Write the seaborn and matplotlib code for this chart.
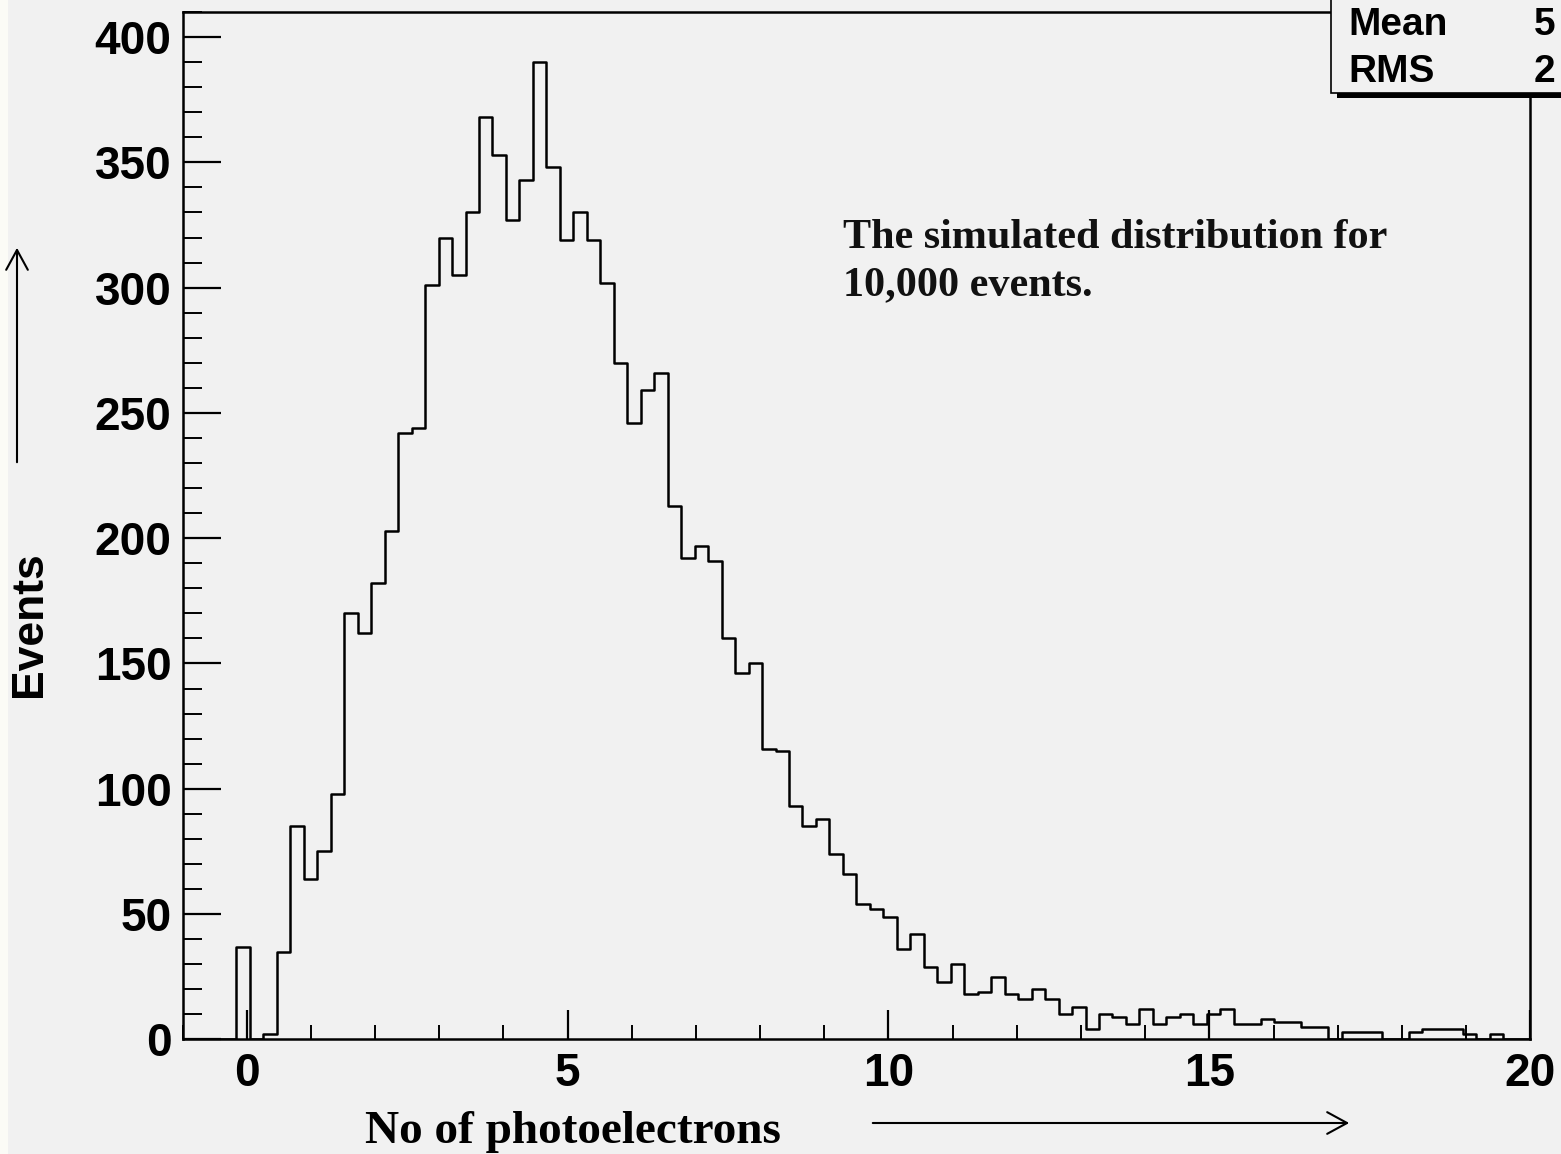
import numpy as np
import pandas as pd
import matplotlib
matplotlib.use("Agg")
import matplotlib.pyplot as plt
from matplotlib.patches import Rectangle, FancyArrowPatch
import seaborn as sns

# ---------------- data ----------------
hist_low = -1.0
hist_high = 20.0
n_bins = 100
events = [
    0, 0, 0, 0, 37, 0, 2, 35, 85, 64,
    75, 98, 170, 162, 182, 203, 242, 244, 301, 320,
    305, 330, 368, 353, 327, 343, 390, 348, 319, 330,
    319, 302, 270, 246, 259, 266, 213, 192, 197, 191,
    160, 146, 150, 116, 115, 93, 85, 88, 74, 66,
    54, 52, 49, 36, 42, 29, 23, 30, 18, 19,
    25, 18, 16, 20, 16, 10, 13, 4, 10, 9,
    6, 12, 6, 9, 10, 6, 10, 12, 6, 6,
    8, 7, 7, 5, 5, 0, 3, 3, 3, 0,
    0, 3, 4, 4, 4, 2, 0, 2, 0, 0,
]
x_major = [0, 5, 10, 15, 20]
y_major = [0, 50, 100, 150, 200, 250, 300, 350, 400]
stat_names = ["Mean", "RMS"]
stat_values = ["5", "2"]
note_text = "The simulated distribution for\n10,000 events."
x_title = "No of photoelectrons"
y_title = "Events"

# ---------------- build ----------------
edges = np.linspace(hist_low, hist_high, n_bins + 1)
centers = 0.5 * (edges[:-1] + edges[1:])
df = pd.DataFrame({"npe": centers, "events": events})

W, H = 1561, 1154
BG = "#f1f1f1"

sns.set_style("ticks")
plt.rcParams["font.family"] = ["Liberation Sans", "DejaVu Sans"]
plt.rcParams["font.weight"] = "bold"
plt.rcParams["text.color"] = "black"
plt.rcParams["axes.labelcolor"] = "black"
plt.rcParams["xtick.color"] = "black"
plt.rcParams["ytick.color"] = "black"

fig = plt.figure(figsize=(W / 100, H / 100), dpi=100, facecolor=BG)

def fx(x):
    return x / W

def fy(y):
    return 1 - y / H

ax_l, ax_r, ax_t, ax_b = 182.5, 1530.3, 12.0, 1039.3
ax = fig.add_axes([fx(ax_l), fy(ax_b), (ax_r - ax_l) / W, (ax_b - ax_t) / H])
ax.set_facecolor(BG)

sns.histplot(data=df, x="npe", weights="events", bins=n_bins,
             binrange=(hist_low, hist_high), element="step",
             fill=False, color="black", linewidth=1.8, ax=ax)

ax.set_xlim(hist_low, hist_high)
ax.set_ylim(0, 409.8)
ax.set_xlabel("")
ax.set_ylabel("")
ax.set_xticks(x_major)
ax.set_xticks(np.arange(-1, 21, 1), minor=True)
ax.set_yticks(y_major)
ax.set_yticks(np.arange(0, 411, 10), minor=True)
ax.tick_params(axis="x", which="major", direction="in", length=21, width=1.6,
               labelsize=33, pad=9, colors="black")
ax.tick_params(axis="x", which="minor", direction="in", length=10, width=1.4,
               colors="black")
ax.tick_params(axis="y", which="major", direction="in", length=27, width=1.6,
               labelsize=33, pad=8, colors="black")
ax.tick_params(axis="y", which="minor", direction="in", length=14, width=1.4,
               colors="black")
for lbl in ax.get_xticklabels() + ax.get_yticklabels():
    lbl.set_fontweight("bold")
    lbl.set_color("black")
for sp in ax.spines.values():
    sp.set_visible(True)
    sp.set_linewidth(1.8)
    sp.set_color("black")

# whitish strip at the left edge
fig.add_artist(Rectangle((0, 0), fx(8), 1, transform=fig.transFigure,
                         facecolor="#fbfbf6", edgecolor="none", zorder=0.5))

# stats box with shadow
box_l, box_b = 1331, 93
fig.add_artist(Rectangle((fx(box_l + 6), fy(box_b + 5)), 0.3, 0.3,
                         transform=fig.transFigure, facecolor="black",
                         edgecolor="none", zorder=5))
fig.add_artist(Rectangle((fx(box_l), fy(box_b)), 0.3, 0.3,
                         transform=fig.transFigure, facecolor=BG,
                         edgecolor="black", linewidth=1.2, zorder=6))
for i, (nm, val) in enumerate(zip(stat_names, stat_values)):
    yc = 25 + 47 * i
    fig.text(fx(1348), fy(yc), nm, ha="left", va="center", fontsize=28,
             fontweight="bold", color="black", zorder=7)
    fig.text(fx(1534), fy(yc), val, ha="left", va="center", fontsize=28,
             fontweight="bold", color="black", zorder=7)

# annotation
fig.text(fx(843), fy(219), note_text, ha="left", va="top",
         family=["Liberation Serif", "DejaVu Serif"], fontweight="bold",
         fontsize=30.3, linespacing=1.33, color="#111111")

# axis titles
fig.text(fx(573), fy(1143), x_title, ha="center", va="baseline",
         family=["Liberation Serif", "DejaVu Serif"], fontweight="bold",
         fontsize=34, color="black")
fig.text(fx(30), fy(624), y_title, ha="center", va="center", rotation=90,
         fontsize=32, fontweight="bold", color="black")

# arrows
fig.add_artist(FancyArrowPatch((fx(870), fy(1123)), (fx(1352), fy(1123)),
                               transform=fig.transFigure,
                               arrowstyle="->,head_length=0.55,head_width=0.3",
                               mutation_scale=26, linewidth=1.5, color="black"))
fig.add_artist(FancyArrowPatch((fx(17), fy(465)), (fx(17), fy(245)),
                               transform=fig.transFigure,
                               arrowstyle="->,head_length=0.55,head_width=0.3",
                               mutation_scale=26, linewidth=1.5, color="black"))

fig.savefig("out.png", dpi=100, facecolor=BG)
